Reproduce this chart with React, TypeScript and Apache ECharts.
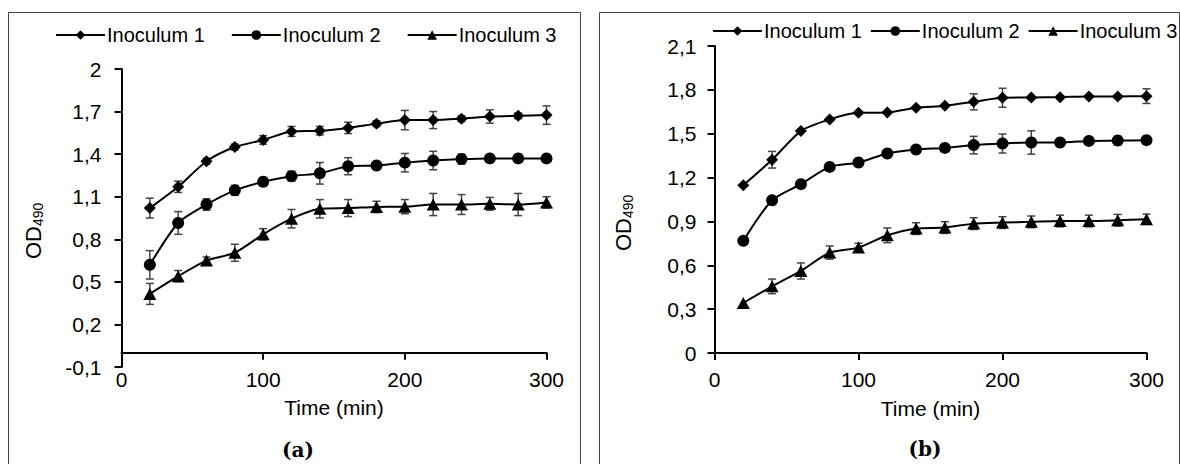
import React, { useEffect, useRef } from "react";
import * as echarts from "echarts";

const times = [20, 40, 60, 80, 100, 120, 140, 160, 180, 200, 220, 240, 260, 280, 300];
const seriesNames = ["Inoculum 1", "Inoculum 2", "Inoculum 3"];

// Panel (a)
const a1 = [1.02, 1.17, 1.35, 1.45, 1.5, 1.56, 1.565, 1.585, 1.615, 1.64, 1.64, 1.65, 1.665, 1.67, 1.675];
const a1Err = [0.07, 0.04, 0.02, 0.02, 0.03, 0.035, 0.03, 0.04, 0.02, 0.068, 0.06, 0.02, 0.047, 0.02, 0.065];
const a2 = [0.62, 0.915, 1.045, 1.145, 1.205, 1.245, 1.265, 1.315, 1.32, 1.34, 1.355, 1.365, 1.37, 1.37, 1.37];
const a2Err = [0.1, 0.08, 0.04, 0.035, 0.03, 0.035, 0.076, 0.06, 0.02, 0.065, 0.065, 0.035, 0.025, 0.025, 0.02];
const a3 = [0.415, 0.54, 0.65, 0.705, 0.835, 0.945, 1.015, 1.02, 1.028, 1.03, 1.045, 1.045, 1.05, 1.045, 1.06];
const a3Err = [0.074, 0.04, 0.025, 0.06, 0.04, 0.065, 0.065, 0.06, 0.04, 0.05, 0.078, 0.07, 0.045, 0.078, 0.04];

// Panel (b)
const b1 = [1.148, 1.322, 1.518, 1.598, 1.643, 1.645, 1.677, 1.691, 1.718, 1.746, 1.748, 1.75, 1.755, 1.755, 1.757];
const b1Err = [0, 0.057, 0, 0, 0, 0, 0, 0, 0.055, 0.065, 0, 0, 0, 0, 0.05];
const b2 = [0.767, 1.045, 1.155, 1.273, 1.303, 1.365, 1.392, 1.403, 1.422, 1.433, 1.44, 1.44, 1.451, 1.453, 1.456];
const b2Err = [0, 0, 0, 0, 0, 0, 0, 0, 0.06, 0.065, 0.08, 0, 0, 0.03, 0];
const b3 = [0.342, 0.456, 0.561, 0.687, 0.721, 0.805, 0.851, 0.858, 0.885, 0.892, 0.897, 0.903, 0.903, 0.908, 0.915];
const b3Err = [0, 0.05, 0.055, 0.045, 0.03, 0.05, 0.04, 0.04, 0.04, 0.04, 0.04, 0.04, 0.04, 0.04, 0.035];

const xTitle = "Time (min)";
const yTitleMain = "OD";
const yTitleSub = "490";
const panelLabels = ["(a)", "(b)"];

const FONT = "'Liberation Sans', Arial, sans-serif";
const symbols = ["diamond", "circle", "triangle"];
const symbolSizes: any[] = [12, 12, [13, 12]];

function fmt(v: number) {
  return String(Number(v.toFixed(1))).replace(".", ",");
}

function lineSeries(name: string, vals: number[], idx: number, k: number) {
  return {
    type: "line",
    name,
    xAxisIndex: idx,
    yAxisIndex: idx,
    data: times.map((t, i) => [t, vals[i]]),
    smooth: 0.25,
    symbol: symbols[k],
    symbolSize: symbolSizes[k],
    itemStyle: { color: "#000" },
    lineStyle: { color: "#000", width: 2 },
    z: 3,
  };
}

function errSeries(vals: number[], errs: number[], idx: number) {
  return {
    type: "custom",
    xAxisIndex: idx,
    yAxisIndex: idx,
    z: 2,
    silent: true,
    encode: { x: 0, y: [1, 2] },
    data: times.map((t, i) => [t, vals[i] - errs[i], vals[i] + errs[i]]),
    renderItem: (params: any, api: any) => {
      const x = api.value(0);
      const lo = api.value(1);
      const hi = api.value(2);
      if (hi - lo <= 0) return null;
      const top = api.coord([x, hi]);
      const bot = api.coord([x, lo]);
      const w = 4;
      const style = { stroke: "#444", lineWidth: 1.5 };
      return {
        type: "group",
        children: [
          { type: "line", shape: { x1: top[0], y1: top[1], x2: bot[0], y2: bot[1] }, style },
          { type: "line", shape: { x1: top[0] - w, y1: top[1], x2: top[0] + w, y2: top[1] }, style },
          { type: "line", shape: { x1: bot[0] - w, y1: bot[1], x2: bot[0] + w, y2: bot[1] }, style },
        ],
      };
    },
  };
}

function yTitle(cx: number, cy: number) {
  return {
    type: "group",
    x: cx,
    y: cy,
    rotation: Math.PI / 2,
    children: [
      {
        type: "text",
        x: -29,
        y: 0,
        style: { text: yTitleMain, font: `22px ${FONT}`, fill: "#000", align: "left", verticalAlign: "middle" },
      },
      {
        type: "text",
        x: 4,
        y: 5,
        style: { text: yTitleSub, font: `14px ${FONT}`, fill: "#000", align: "left", verticalAlign: "middle" },
      },
    ],
  };
}

export default function App() {
  const ref = useRef<HTMLDivElement>(null);
  useEffect(() => {
    if (!ref.current) return;
    const chart = echarts.init(ref.current, null, { renderer: "svg" });
    const axisLine = { show: true, onZero: true, lineStyle: { color: "#000", width: 2 } };
    const axisTick = { show: true, length: 7, lineStyle: { color: "#000", width: 2 } };
    const label = { color: "#000", fontSize: 21, fontFamily: FONT };
    const mkX = (idx: number, labelMargin: number, nameGap: number) => ({
      type: "value",
      gridIndex: idx,
      min: 0,
      max: 300,
      interval: 100,
      axisLine,
      axisTick,
      splitLine: { show: false },
      axisLabel: { ...label, margin: labelMargin },
      name: xTitle,
      nameLocation: "middle",
      nameGap,
      nameTextStyle: { color: "#000", fontSize: 21, fontFamily: FONT },
    });
    const legendBase = {
      padding: 0,
      itemWidth: 49,
      itemHeight: 12,
      width: 560,
      orient: "horizontal",
      selectedMode: false,
      data: seriesNames,
      textStyle: { color: "#000", fontSize: 20, fontFamily: FONT, padding: [0, 0, 0, -3] },
    };
    const option: any = {
      animation: false,
      backgroundColor: "#fff",
      grid: [
        { left: 121.5, width: 425, top: 69, height: 298 },
        { left: 714.5, width: 432, top: 46, height: 307 },
      ],
      xAxis: [mkX(0, 2, 30), mkX(1, 16, 45)],
      yAxis: [
        {
          type: "value",
          gridIndex: 0,
          min: -0.1,
          max: 2,
          interval: 0.3,
          axisLine: { show: true, lineStyle: { color: "#000", width: 2 } },
          axisTick,
          splitLine: { show: false },
          axisLabel: { ...label, margin: 20, formatter: fmt },
        },
        {
          type: "value",
          gridIndex: 1,
          min: 0,
          max: 2.1,
          interval: 0.3,
          axisLine: { show: true, lineStyle: { color: "#000", width: 2 } },
          axisTick,
          splitLine: { show: false },
          axisLabel: { ...label, margin: 18, formatter: fmt },
        },
      ],
      legend: [
        { ...legendBase, left: 55, top: 25, itemGap: 26 },
        { ...legendBase, left: 712, top: 21, itemGap: 8 },
      ],
      graphic: [
        { type: "rect", shape: { x: 8.5, y: 12.5, width: 572, height: 470 }, style: { fill: "none", stroke: "#444", lineWidth: 1 }, silent: true },
        { type: "rect", shape: { x: 599.5, y: 12.5, width: 580, height: 470 }, style: { fill: "none", stroke: "#444", lineWidth: 1 }, silent: true },
        yTitle(33, 230),
        yTitle(623, 222),
        {
          type: "text",
          x: 298,
          y: 450,
          style: { text: panelLabels[0], font: `bold 20px 'DejaVu Serif', 'Liberation Serif', serif`, fill: "#000", align: "center", verticalAlign: "middle" },
        },
        {
          type: "text",
          x: 925,
          y: 449,
          style: { text: panelLabels[1], font: `bold 20px 'DejaVu Serif', 'Liberation Serif', serif`, fill: "#000", align: "center", verticalAlign: "middle" },
        },
      ],
      series: [
        errSeries(a1, a1Err, 0),
        errSeries(a2, a2Err, 0),
        errSeries(a3, a3Err, 0),
        lineSeries(seriesNames[0], a1, 0, 0),
        lineSeries(seriesNames[1], a2, 0, 1),
        lineSeries(seriesNames[2], a3, 0, 2),
        errSeries(b1, b1Err, 1),
        errSeries(b2, b2Err, 1),
        errSeries(b3, b3Err, 1),
        lineSeries(seriesNames[0], b1, 1, 0),
        lineSeries(seriesNames[1], b2, 1, 1),
        lineSeries(seriesNames[2], b3, 1, 2),
      ],
    };
    chart.setOption(option);
    return () => chart.dispose();
  }, []);
  return <div ref={ref} style={{ position: "absolute", left: 0, top: 0, width: 1180, height: 464 }} />;
}
